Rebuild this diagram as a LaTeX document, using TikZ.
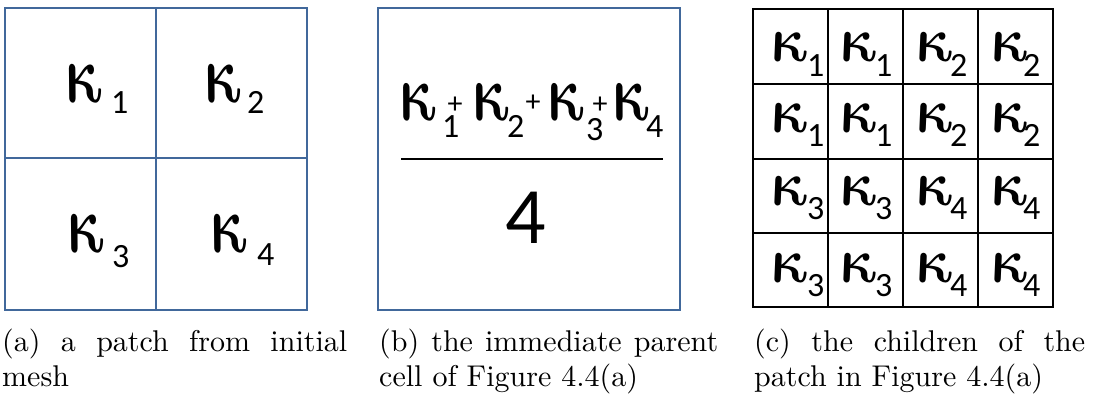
\documentclass[tikz,border=0pt]{standalone}
\usepackage{bm}
\usepackage{fontspec}
\newfontfamily\carl{Carlito}
\newfontfamily\capfont{lmroman10-regular}[Extension=.otf]
\definecolor{bord}{RGB}{65,104,155}
\tikzset{
  kapst/.style={anchor=base west, inner sep=0pt, outer sep=0pt, xslant=-0.18, transform shape},
  subst/.style={anchor=base west, inner sep=0pt, outer sep=0pt, font=\fontsize{34}{34}\selectfont\carl},
  capline/.style={anchor=base west, inner sep=0pt, font=\fontsize{30}{36}\capfont},
  blueframe/.style={draw=bord, line width=2pt},
  gridline/.style={draw=black, line width=1.6pt},
  plus/.style={inner sep=0pt, font=\fontsize{30}{30}\selectfont\carl}
}
% #1 name, #2 x, #3 y (kappa base), #4 digit, #5 subscript offset, #6 drop, #7 vertical scale
\newcommand{\kapnode}[7]{%
  \begin{scope}[shift={(#2,#3)}]
    \node[kapst] (#1) at (0,0) {\fontsize{24.88}{30}\selectfont\scalebox{2.3}[#7]{$\bm{\kappa}$}};
    \node[subst] (#1s) at (#5,#6) {#4};
  \end{scope}}
\begin{document}
\begin{tikzpicture}[x=1pt,y=-1pt]
\useasboundingbox (0,0) rectangle (1102,396);
% (a)
\draw[blueframe] (5,8) rectangle (307,310);
\draw[blueframe] (156,8) -- (156,310);
\draw[blueframe] (5,158) -- (307,158);
\kapnode{a1}{67}{102}{1}{44}{11}{3.4}
\kapnode{a2}{206}{102}{2}{41}{11}{3.4}
\kapnode{a3}{69}{252}{3}{43}{15}{3.4}
\kapnode{a4}{212}{252}{4}{45}{13}{3.4}
% (b)
\draw[blueframe] (378,8) rectangle (680,310);
\kapnode{b1}{401}{120}{1}{41}{17}{3.3}
\kapnode{b2}{474}{120}{2}{33}{17}{3.3}
\kapnode{b3}{549}{120}{3}{37}{20}{3.3}
\kapnode{b4}{614}{120}{4}{32}{17}{3.3}
\node[plus] (p1) at (455,105) {+};
\node[plus] (p2) at (533,103) {+};
\node[plus] (p3) at (600,105) {+};
\coordinate (barl) at (401,159);
\coordinate (barr) at (663,159);
\draw[black, line width=1.5pt] (barl) -- (barr);
\node[anchor=base, inner sep=0pt, font=\fontsize{80}{80}\selectfont\carl] (den) at (526,243) {4};
% (c)
\draw[gridline] (753,9) rectangle (1053,307);
\foreach \x in {828,903,978} \draw[gridline] (\x,9) -- (\x,307);
\foreach \y in {84,159,233} \draw[gridline] (753,\y) -- (1053,\y);
\foreach \j/\yb/\na/\nb in {0/62/1/2,1/132/1/2,2/205/3/4,3/282/3/4}{
  \kapnode{c0\j}{772}{\yb}{\na}{35}{14}{2.6}
  \kapnode{c1\j}{841}{\yb}{\na}{34}{14}{2.6}
  \kapnode{c2\j}{917}{\yb}{\nb}{33}{14}{2.6}
  \kapnode{c3\j}{992}{\yb}{\nb}{31}{14}{2.6}
}
% captions
\node[capline] (capa1) at (2,351) {\makebox[345pt][s]{(a) a patch from initial}};
\node[capline] (capa2) at (2,386) {mesh};
\node[capline] (capb1) at (379,351) {\makebox[339pt][s]{(b) the immediate parent}};
\node[capline] (capb2) at (379,386) {cell of Figure 4.4(a)};
\node[capline] (capc1) at (754,351) {\makebox[331pt][s]{(c) the children of the}};
\node[capline] (capc2) at (754,386) {patch in Figure 4.4(a)};
\end{tikzpicture}
\end{document}
